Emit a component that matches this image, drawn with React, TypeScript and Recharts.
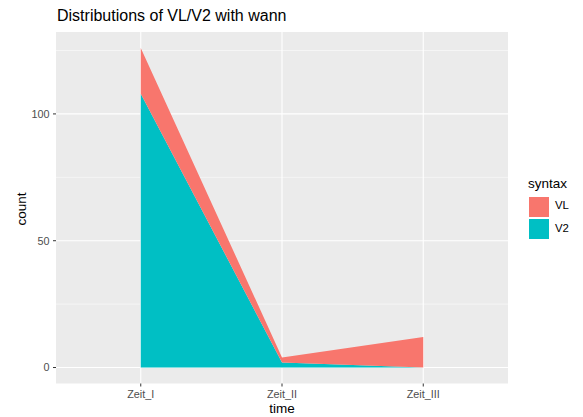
import React from 'react';
import { AreaChart, Area, XAxis, YAxis, CartesianGrid } from 'recharts';

const times = ['Zeit_I', 'Zeit_II', 'Zeit_III'];
const v2Counts = [108, 2, 0];
const vlCounts = [18, 2, 12];
const yTicks = [0, 50, 100];
const yMinor = [25, 75, 125];

const data = times.map((t, i) => ({ x: i + 1, time: t, V2: v2Counts[i], VL: vlCounts[i] }));

const font = '"Liberation Sans", Arial, sans-serif';
const RED = '#F8766D';
const TEAL = '#00BFC4';

export default function App() {
  return (
    <div style={{ position: 'absolute', left: 0, top: 0, width: 583, height: 417, background: '#fff', fontFamily: font }}>
      <AreaChart
        width={583}
        height={417}
        data={data}
        margin={{ top: 32, right: 75, left: 0, bottom: 0 }}
      >
        <CartesianGrid
          fill="#EBEBEB"
          stroke="#ffffff"
          strokeWidth={0.5}
          vertical={false}
          horizontalValues={yMinor}
        />
        <CartesianGrid
          stroke="#ffffff"
          strokeWidth={1.1}
          horizontalValues={yTicks}
          verticalValues={[1, 2, 3]}
        />
        <XAxis
          dataKey="x"
          type="number"
          domain={[0.4, 3.6]}
          ticks={[1, 2, 3]}
          tickFormatter={(v: number) => times[v - 1]}
          height={33.5}
          axisLine={false}
          tickSize={3}
          tickMargin={3.5}
          tickLine={{ stroke: '#333333' }}
          tick={{ fill: '#4D4D4D', fontSize: 10.8, fontFamily: font }}
          allowDataOverflow
        />
        <YAxis
          type="number"
          domain={[-6.3, 132.3]}
          ticks={yTicks}
          width={56}
          axisLine={false}
          tickSize={3}
          tickMargin={3.5}
          tickLine={{ stroke: '#333333' }}
          tick={{ fill: '#4D4D4D', fontSize: 10.8, fontFamily: font }}
          allowDataOverflow
        />
        <Area
          type="linear"
          dataKey="V2"
          stackId="1"
          stroke="none"
          fill={TEAL}
          fillOpacity={1}
          isAnimationActive={false}
        />
        <Area
          type="linear"
          dataKey="VL"
          stackId="1"
          stroke="none"
          fill={RED}
          fillOpacity={1}
          isAnimationActive={false}
        />
      </AreaChart>

      <div style={{ position: 'absolute', left: 57, top: 7, fontSize: 16, color: '#000', whiteSpace: 'nowrap' }}>
        Distributions of VL/V2 with wann
      </div>
      <div style={{ position: 'absolute', left: 282, top: 401, transform: 'translateX(-50%)', fontSize: 13.5, color: '#000', lineHeight: 'normal' }}>
        time
      </div>
      <div
        style={{
          position: 'absolute',
          left: 21,
          top: 209,
          transform: 'translate(-50%, -50%) rotate(-90deg)',
          fontSize: 13.5,
          color: '#000',
          whiteSpace: 'nowrap',
        }}
      >
        count
      </div>

      <div style={{ position: 'absolute', left: 528, top: 175.5, fontSize: 13.5, color: '#000' }}>syntax</div>
      <div style={{ position: 'absolute', left: 529, top: 197, width: 20, height: 20, background: RED }} />
      <div style={{ position: 'absolute', left: 529, top: 219, width: 20, height: 20, background: TEAL }} />
      <div style={{ position: 'absolute', left: 555, top: 199, fontSize: 11.4, color: '#000' }}>VL</div>
      <div style={{ position: 'absolute', left: 555, top: 221.5, fontSize: 11.4, color: '#000' }}>V2</div>
    </div>
  );
}
